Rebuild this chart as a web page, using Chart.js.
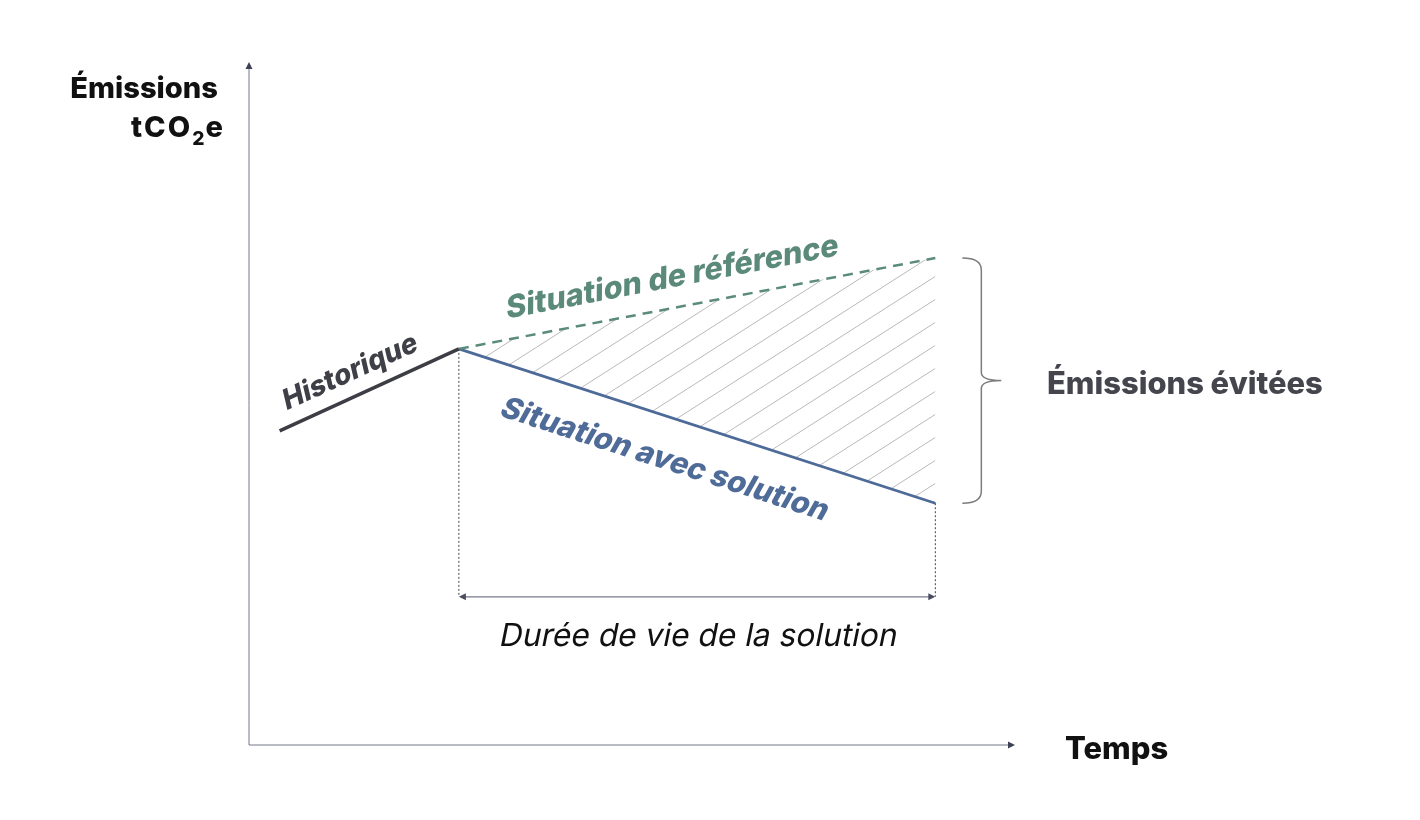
<!DOCTYPE html>
<html>
<head>
<meta charset="utf-8">
<script src="https://cdn.jsdelivr.net/npm/chart.js@4.4.0/dist/chart.umd.min.js"></script>
<style>
  html, body { margin: 0; padding: 0; background: #fff; }
</style>
</head>
<body>
<canvas id="chart" width="1420" height="820"></canvas>
<script>
// Illustrative values (time and tCO2e in arbitrary units, 0-100)
const histTime = [4, 27.4];
const histEmissions = [46, 58];
const lifeTime = [27.4, 89.6];
const refEmissions = [58, 71.3];
const solEmissions = [58, 35.4];

const lineNames = ["Historique", "Situation de référence", "Situation avec solution"];
const yTitle = ["Émissions", "tCO", "2", "e"];
const xTitle = "Temps";
const braceLabel = "Émissions évitées";
const spanLabel = "Durée de vie de la solution";

const FONT = "Inter, 'DejaVu Sans', sans-serif";

const toPoints = (xs, ys) => xs.map((v, i) => ({ x: v, y: ys[i] }));

// diagonal hatch used between the two scenarios
function makeHatch() {
    const c = document.createElement("canvas");
    c.width = 36;
    c.height = 23;
    const g = c.getContext("2d");
    g.strokeStyle = "#b9b9b9";
    g.lineWidth = 1;
    for (const k of [-1, 0, 1]) {
        g.beginPath();
        g.moveTo(0, 23 + k * 23);
        g.lineTo(36, k * 23);
        g.stroke();
    }
    return g.createPattern(c, "repeat");
}

// pick a font size so the text spans the wanted width
function fitFont(ctx, text, style, width) {
    ctx.font = style + " 100px " + FONT;
    const size = 100 * width / ctx.measureText(text).width;
    ctx.font = style + " " + size.toFixed(1) + "px " + FONT;
    return size;
}

function arrowHead(ctx, x, y, dir, color) {
    ctx.save();
    ctx.translate(x, y);
    ctx.rotate(dir);
    ctx.fillStyle = color;
    ctx.beginPath();
    ctx.moveTo(0, 0);
    ctx.lineTo(-7, -3.5);
    ctx.lineTo(-7, 3.5);
    ctx.closePath();
    ctx.fill();
    ctx.restore();
}

// text placed along a segment, shifted perpendicular to it
function alongText(ctx, x, y, xs, ys, t, offset, text, color, width) {
    const x0 = x.getPixelForValue(xs[0]), y0 = y.getPixelForValue(ys[0]);
    const x1 = x.getPixelForValue(xs[1]), y1 = y.getPixelForValue(ys[1]);
    const ang = Math.atan2(y1 - y0, x1 - x0);
    const cx = x0 + (x1 - x0) * t, cy = y0 + (y1 - y0) * t;
    ctx.save();
    ctx.translate(cx + Math.sin(ang) * offset, cy - Math.cos(ang) * offset);
    ctx.rotate(ang);
    ctx.transform(1, 0, -0.2, 1, 0, 0); // oblique
    ctx.fillStyle = color;
    fitFont(ctx, text, "800", width);
    ctx.textAlign = "center";
    ctx.textBaseline = "middle";
    ctx.fillText(text, 0, 0);
    ctx.restore();
}

const diagram = {
    id: "diagram",
    afterDatasetsDraw(chart) {
        const { ctx, chartArea: a, scales: { x, y } } = chart;
        const axisColor = "#767a8a";

        // axes with arrows
        ctx.save();
        ctx.strokeStyle = axisColor;
        ctx.lineWidth = 1;
        ctx.beginPath();
        ctx.moveTo(a.left, a.top + 4);
        ctx.lineTo(a.left, a.bottom);
        ctx.lineTo(a.right - 4, a.bottom);
        ctx.stroke();
        arrowHead(ctx, a.left, a.top, -Math.PI / 2, "#3d4154");
        arrowHead(ctx, a.right, a.bottom, 0, "#3d4154");

        // dotted verticals and life-span arrow
        const xs = x.getPixelForValue(lifeTime[0]);
        const xe = x.getPixelForValue(lifeTime[1]);
        const spanY = y.getPixelForValue(21.7);
        ctx.strokeStyle = "#444";
        ctx.setLineDash([2, 2]);
        ctx.beginPath();
        ctx.moveTo(xs, y.getPixelForValue(solEmissions[0]));
        ctx.lineTo(xs, spanY);
        ctx.moveTo(xe, y.getPixelForValue(solEmissions[1]));
        ctx.lineTo(xe, spanY);
        ctx.stroke();
        ctx.setLineDash([]);
        ctx.strokeStyle = axisColor;
        ctx.lineWidth = 1.2;
        ctx.beginPath();
        ctx.moveTo(xs + 4, spanY);
        ctx.lineTo(xe - 4, spanY);
        ctx.stroke();
        arrowHead(ctx, xs, spanY, Math.PI, "#4a4e60");
        arrowHead(ctx, xe, spanY, 0, "#4a4e60");

        // brace on the avoided emissions
        const bTop = y.getPixelForValue(refEmissions[1]);
        const bBot = y.getPixelForValue(solEmissions[1]);
        const bx = xe + 46, tipY = bTop + (bBot - bTop) * 0.5;
        ctx.strokeStyle = "#7c7c7c";
        ctx.lineWidth = 1.5;
        ctx.beginPath();
        ctx.moveTo(xe + 27, bTop);
        ctx.quadraticCurveTo(bx, bTop, bx, bTop + 12);
        ctx.lineTo(bx, tipY - 8);
        ctx.quadraticCurveTo(bx, tipY, bx + 20, tipY);
        ctx.quadraticCurveTo(bx, tipY, bx, tipY + 8);
        ctx.lineTo(bx, bBot - 12);
        ctx.quadraticCurveTo(bx, bBot, xe + 27, bBot);
        ctx.stroke();

        // texts
        ctx.textBaseline = "alphabetic";
        ctx.fillStyle = "#45454d";
        fitFont(ctx, braceLabel, "800", 276);
        ctx.textAlign = "left";
        ctx.fillText(braceLabel, 1047, 394);

        ctx.fillStyle = "#111";
        ctx.save();
        ctx.translate((xs + xe) / 2, 646);
        ctx.transform(1, 0, -0.2, 1, 0, 0);
        fitFont(ctx, spanLabel, "400", 398);
        ctx.textAlign = "center";
        ctx.fillText(spanLabel, 0, 0);
        ctx.restore();

        fitFont(ctx, xTitle, "800", 103);
        ctx.textAlign = "left";
        ctx.fillText(xTitle, 1065, 759);

        const size = fitFont(ctx, yTitle[0], "800", 148);
        ctx.textAlign = "right";
        ctx.fillText(yTitle[0], 218, 98);

        // tCO2e with a subscript, spaced a little to match the wider original
        const big = ctx.font;
        const sub = "800 " + (size * 0.66).toFixed(1) + "px " + FONT;
        ctx.textAlign = "left";
        let cx = 131;
        for (const ch of yTitle[1]) {
            ctx.fillText(ch, cx, 137);
            cx += ctx.measureText(ch).width + 2;
        }
        ctx.font = sub;
        ctx.fillText(yTitle[2], cx, 145);
        cx += ctx.measureText(yTitle[2]).width + 1;
        ctx.font = big;
        ctx.fillText(yTitle[3], cx, 137);

        alongText(ctx, x, y, histTime, histEmissions, 0.45, 24, lineNames[0], "#3f3f47", 146);
        alongText(ctx, x, y, lifeTime, refEmissions, 0.46, 30, lineNames[1], "#5b8a7b", 338);
        alongText(ctx, x, y, lifeTime, solEmissions, 0.46, -42, lineNames[2], "#4f6b98", 342);
        ctx.restore();
    }
};

new Chart(document.getElementById("chart"), {
    type: "line",
    data: {
        datasets: [
            {
                label: lineNames[0],
                data: toPoints(histTime, histEmissions),
                borderColor: "#3d3d45",
                borderWidth: 3.5,
                pointRadius: 0,
                fill: false,
            },
            {
                label: lineNames[1],
                data: toPoints(lifeTime, refEmissions),
                borderColor: "#5b8b7b",
                borderWidth: 2.5,
                borderDash: [10, 7],
                pointRadius: 0,
                fill: false,
            },
            {
                label: lineNames[2],
                data: toPoints(lifeTime, solEmissions),
                borderColor: "#4d6a98",
                borderWidth: 2.8,
                pointRadius: 0,
                fill: 1,
                backgroundColor: makeHatch(),
            },
        ],
    },
    options: {
        responsive: false,
        animation: false,
        layout: { padding: { left: 249, right: 405, top: 62, bottom: 75 } },
        scales: {
            x: { type: "linear", min: 0, max: 100, display: false },
            y: { type: "linear", min: 0, max: 100, display: false },
        },
        plugins: {
            legend: { display: false },
            tooltip: { enabled: false },
        },
    },
    plugins: [diagram],
});
</script>
</body>
</html>
